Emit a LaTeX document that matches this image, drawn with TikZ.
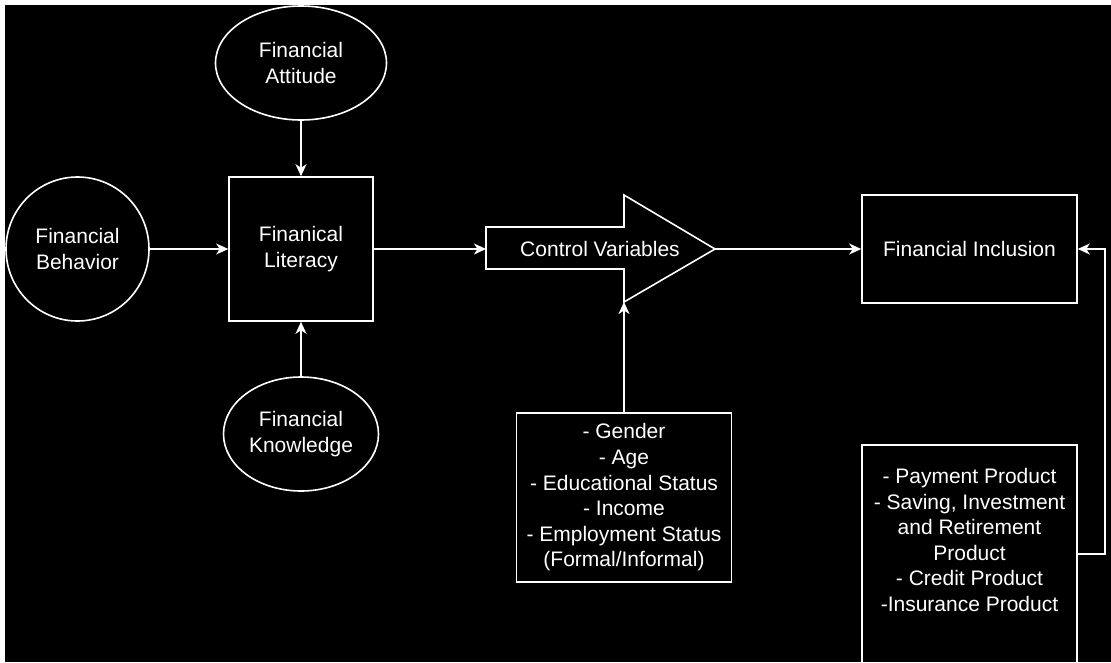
\documentclass[tikz,border=0pt]{standalone}
\usepackage{fontspec}
\setmainfont{Liberation Sans}
\usetikzlibrary{arrows.meta,positioning,shapes.geometric}
\definecolor{Ink}{HTML}{FFFFFF}
\definecolor{Board}{HTML}{000000}

\tikzset{
  blk/.style={draw=Ink, line width=1.6pt, align=center, text=Ink,
    font=\fontsize{21}{25.6}\selectfont, inner sep=0pt},
  oval/.style={blk, ellipse},
  arr/.style={Ink, line width=1.6pt, -{Stealth[length=12pt,width=11pt,inset=3.5pt]}},
}

\begin{document}
\begin{tikzpicture}[x=1pt,y=-1pt]
  \useasboundingbox (0,0) rectangle (1111,662);
  \fill[Ink] (0,0) rectangle (1111,662);
  \fill[Board] (5,5) rectangle (1111,662);
  % literacy and its inputs
  \node[blk, minimum width=144pt, minimum height=144pt] (lit) at (301,249) {Finanical\\Literacy};
  \node[oval, minimum width=171pt, minimum height=114pt] (att) at (301,63) {Financial\\Attitude};
  \node[oval, minimum width=143pt, minimum height=144pt] (beh) at (77.5,249) {Financial\\Behavior};
  \node[oval, minimum width=155pt, minimum height=114pt] (know) at (301,434) {Financial\\Knowledge};
  % control variables arrow
  \coordinate (cvtail) at (486,249);
  \coordinate (cvtip) at (715,249);
  \coordinate (cvhead) at (624,302);
  \draw[Ink, line width=1.6pt] (486,227) -- (624,227) -- (624,195) -- (cvtip) -- (cvhead)
    -- (624,269) -- (486,269) -- cycle;
  \node[blk, draw=none] (cvtext) at (600,249) {Control Variables};
  \node[blk, minimum width=215pt, minimum height=169pt] (ctrl) at (624,497.5)
    {- Gender\\- Age\\- Educational Status\\- Income\\- Employment Status\\(Formal/Informal)};
  % inclusion
  \node[blk, minimum width=215pt, minimum height=108pt] (incl) at (969.5,249) {Financial Inclusion};
  \node[blk, minimum width=215pt, minimum height=218pt] (prod) at (969.5,554) {};
  \node[blk, draw=none] (prodtext) at (969.5,540)
    {- Payment Product\\- Saving, Investment\\and Retirement\\Product\\- Credit Product\\-Insurance Product};
  % connectors
  \draw[arr] (att) -- (lit);
  \draw[arr] (know) -- (lit);
  \draw[arr] (beh) -- (lit);
  \draw[arr] (lit) -- (cvtail);
  \draw[arr] (ctrl) -- (cvhead);
  \draw[arr] (cvtip) -- (incl);
  \draw[arr] (prod.east) -- ++(27,0) |- (incl.east);
\end{tikzpicture}
\end{document}
